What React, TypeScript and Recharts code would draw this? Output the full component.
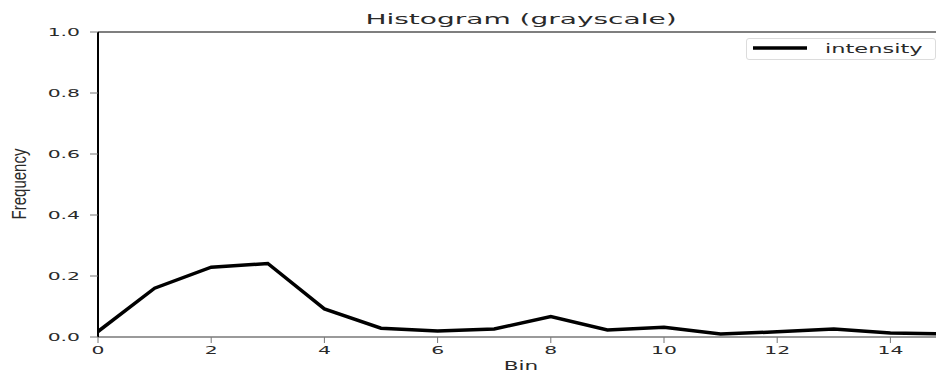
import { LineChart, Line, XAxis, YAxis, Legend, ReferenceLine } from "recharts";

// normalised grayscale histogram, one value per bin
const bins = [0, 1, 2, 3, 4, 5, 6, 7, 8, 9, 10, 11, 12, 13, 14, 15];
const intensity = [
  0.018, 0.16, 0.229, 0.241, 0.092, 0.029, 0.02, 0.026, 0.067, 0.023, 0.032,
  0.01, 0.017, 0.026, 0.013, 0.01,
];
const xTicks = [0, 2, 4, 6, 8, 10, 12, 14];
const yTicks = [0, 0.2, 0.4, 0.6, 0.8, 1.0];

const data = bins.map((b, i) => ({ bin: b, intensity: intensity[i] }));

const FONT = "DejaVu Sans, sans-serif";
const TEXT = "#2a2a2a";

function YTick({ x, y, payload }: any) {
  return (
    <g transform={`translate(${x},${y}) scale(1.85,1)`}>
      <text textAnchor="end" dy={4} fontSize={11} fill={TEXT} fontFamily={FONT}>
        {Number(payload.value).toFixed(1)}
      </text>
    </g>
  );
}

function XTick({ x, y, payload }: any) {
  return (
    <g transform={`translate(${x},${y}) scale(1.85,1)`}>
      <text textAnchor="middle" dy={9} fontSize={11} fill={TEXT} fontFamily={FONT}>
        {payload.value}
      </text>
    </g>
  );
}

const renderLegend = () => (
  <div
    style={{
      position: "relative",
      width: 188,
      height: 20,
      border: "1px solid #dcdcdc",
      borderRadius: 3,
      background: "#fff",
    }}
  >
    <svg width={70} height={20} style={{ position: "absolute", left: 0, top: 0 }}>
      <line x1={6} x2={60} y1={9} y2={9} stroke="#000" strokeWidth={3.5} />
    </svg>
    <span
      style={{
        position: "absolute",
        left: 78,
        top: 10,
        fontFamily: FONT,
        fontSize: 12.5,
        lineHeight: 1,
        color: TEXT,
        whiteSpace: "nowrap",
        transform: "translateY(-50%) scaleX(1.8)",
        transformOrigin: "left center",
      }}
    >
      intensity
    </span>
  </div>
);

const labelStyle = (left: number, top: number, size: number, sx: number, extra = {}) => ({
  position: "absolute" as const,
  left,
  top,
  fontFamily: FONT,
  fontSize: size,
  lineHeight: 1,
  color: TEXT,
  whiteSpace: "nowrap" as const,
  transform: `translate(-50%, -50%) scale(${sx}, 1)`,
  ...extra,
});

export default function App() {
  return (
    <div
      style={{
        position: "absolute",
        left: 0,
        top: 0,
        width: 936,
        height: 381,
        overflow: "hidden",
        background: "#fff",
      }}
    >
      <LineChart
        width={960}
        height={381}
        data={data}
        margin={{ top: 32, right: 13, bottom: 0, left: 0 }}
      >
        <XAxis
          dataKey="bin"
          type="number"
          domain={[0, 15]}
          ticks={xTicks}
          height={44}
          axisLine={{ stroke: "#9a9a9a", strokeWidth: 2 }}
          tickLine={{ stroke: "#777" }}
          tickSize={6}
          tick={<XTick />}
        />
        <YAxis
          type="number"
          domain={[0, 1]}
          ticks={yTicks}
          width={98}
          axisLine={{ stroke: "#000", strokeWidth: 2 }}
          tickLine={{ stroke: "#777" }}
          tickSize={8}
          tickMargin={10}
          tick={<YTick />}
        />
        <ReferenceLine y={1} stroke="#555" strokeWidth={1.5} />
        <Legend
          layout="vertical"
          align="center"
          verticalAlign="middle"
          content={renderLegend}
          wrapperStyle={{ position: "absolute", left: 746, top: 38, width: 190, height: 22 }}
        />
        <Line
          type="linear"
          dataKey="intensity"
          name="intensity"
          stroke="#000"
          strokeWidth={3.5}
          dot={false}
          isAnimationActive={false}
        />
      </LineChart>
      <div style={labelStyle(521, 19, 14, 2.0)}>Histogram (grayscale)</div>
      <div style={labelStyle(521, 366, 12, 1.8)}>Bin</div>
      <div
        style={{
          position: "absolute",
          left: 19,
          top: 184,
          fontFamily: "Liberation Sans, Arial, sans-serif",
          fontSize: 15,
          lineHeight: 1,
          color: TEXT,
          whiteSpace: "nowrap",
          transform: "translate(-50%, -50%) scale(1.3, 1) rotate(-90deg)",
        }}
      >
        Frequency
      </div>
    </div>
  );
}
